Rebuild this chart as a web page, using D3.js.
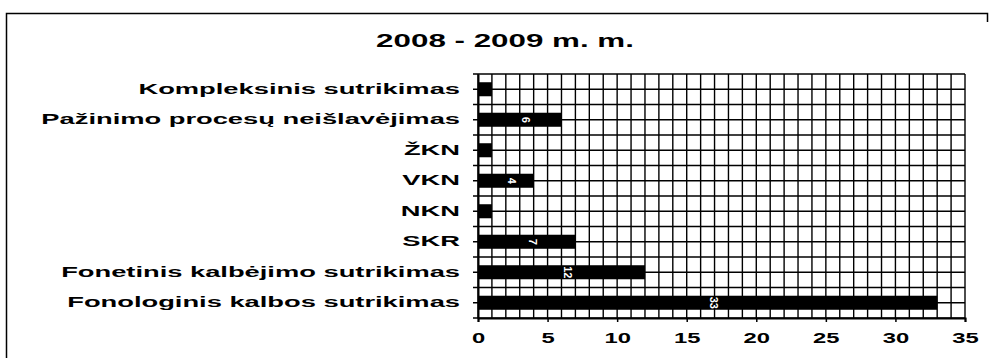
<!DOCTYPE html>
<html>
<head>
<meta charset="utf-8">
<script src="https://cdn.jsdelivr.net/npm/d3@7"></script>
<style>
  html, body { margin: 0; padding: 0; background: #fff; }
  svg { display: block; }
  text { font-family: "Liberation Sans", Arial, sans-serif; font-weight: bold; fill: #000; }
</style>
</head>
<body>
<svg id="chart" width="990" height="358"></svg>
<script>
// Number of children per diagnosis, school year 2008–2009
const categories = [
  "Kompleksinis sutrikimas",
  "Pažinimo procesų neišlavėjimas",
  "ŽKN",
  "VKN",
  "NKN",
  "SKR",
  "Fonetinis kalbėjimo sutrikimas",
  "Fonologinis kalbos sutrikimas"
];
const values = [1, 6, 1, 4, 1, 7, 12, 33];
const xTickValues = [0, 5, 10, 15, 20, 25, 30, 35];
const title = "2008 - 2009 m. m.";

const W = 990, H = 358;
const plot = { left: 478, right: 965, top: 74, bottom: 318 };
const labelStretch = 1.95;  // wide, extended lettering
const titleStretch = 1.65;
const tickStretch = 1.7;

const svg = d3.select("#chart");

// outer frame
svg.append("path")
  .attr("d", `M6.5,${H} L6.5,13.5 L987.5,13.5 L987.5,22`)
  .attr("fill", "none").attr("stroke", "#000").attr("stroke-width", 1.5);

// title
svg.append("text")
  .attr("transform", `translate(505,42) scale(${titleStretch},1)`)
  .attr("text-anchor", "middle")
  .attr("dominant-baseline", "middle")
  .style("font-size", "19px")
  .text(title);

const x = d3.scaleLinear().domain([0, 35]).range([plot.left, plot.right]);
const y = d3.scaleBand().domain(categories)
  .range([plot.top, plot.bottom])
  .paddingInner(0.54).paddingOuter(0.27);

// graph-paper grid: one column per unit, rows at every half band
const grid = svg.append("g").attr("stroke", "#000").attr("stroke-width", 1.4);
grid.selectAll("line.v").data(x.ticks(35)).join("line")
  .attr("class", "v")
  .attr("x1", d => x(d)).attr("x2", d => x(d))
  .attr("y1", plot.top).attr("y2", plot.bottom);
const rows = d3.range(0, categories.length * 2 + 1).map(i => plot.top + i * y.step() / 2);
grid.selectAll("line.h").data(rows).join("line")
  .attr("class", "h")
  .attr("x1", plot.left - 5).attr("x2", plot.right)
  .attr("y1", d => d).attr("y2", d => d);

// bars
svg.append("g").selectAll("rect").data(values).join("rect")
  .attr("x", x(0))
  .attr("y", (d, i) => y(categories[i]))
  .attr("width", d => x(d) - x(0))
  .attr("height", y.bandwidth())
  .attr("fill", "#000");

// value labels inside the wider bars
svg.append("g").selectAll("text")
  .data(values.map((v, i) => ({ v, c: categories[i] })).filter(d => x(d.v) - x(0) > 30))
  .join("text")
  .attr("transform", d => `translate(${x(d.v / 2) + 5},${y(d.c) + y.bandwidth() / 2}) rotate(90)`)
  .attr("text-anchor", "middle")
  .attr("dominant-baseline", "middle")
  .style("font-size", "11px")
  .style("fill", "#fff")
  .text(d => d.v);

// x axis
const xAxis = svg.append("g")
  .attr("transform", `translate(0,${plot.bottom})`)
  .call(d3.axisBottom(x).tickValues(xTickValues).tickSize(4).tickPadding(11));
xAxis.select(".domain").attr("stroke-width", 2);
xAxis.selectAll(".tick line").attr("stroke-width", 1.5);
xAxis.selectAll(".tick text")
  .style("font-size", "14px")
  .attr("transform", `scale(${tickStretch},1)`);

// y axis
const yAxis = svg.append("g")
  .attr("transform", `translate(${plot.left},0)`)
  .call(d3.axisLeft(y).tickSize(0).tickPadding(0));
yAxis.select(".domain").attr("stroke-width", 2);
yAxis.selectAll(".tick text")
  .attr("x", null)
  .attr("dx", null)
  .attr("transform", `translate(-18,0) scale(${labelStretch},1)`)
  .style("font-size", "14px");
</script>
</body>
</html>
